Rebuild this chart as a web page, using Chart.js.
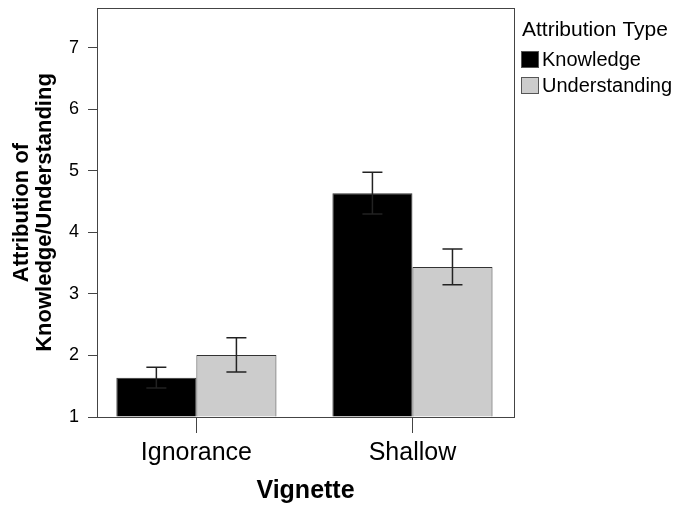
<!DOCTYPE html>
<html>
<head>
<meta charset="utf-8">
<script src="https://cdn.jsdelivr.net/npm/chart.js@4/dist/chart.umd.min.js"></script>
<style>
  html, body { margin: 0; padding: 0; background: #fff; }
  #wrap { width: 679px; height: 509px; position: relative; }
</style>
</head>
<body>
<div id="wrap"><canvas id="chart" width="679" height="509"></canvas></div>
<script>
// ---------- Data ----------
const categories = ['Ignorance', 'Shallow'];
const seriesNames = ['Knowledge', 'Understanding'];
const knowledgeMeans = [1.64, 4.64];
const knowledgeErr = [0.17, 0.34];
const understandingMeans = [2.01, 3.44];
const understandingErr = [0.28, 0.29];
const yTicks = [1, 2, 3, 4, 5, 6, 7];

const FONT = '"Liberation Sans", Arial, sans-serif';
const axisColor = '#444';

// error bars drawn from the bar elements + y scale
const errorBars = {
  id: 'errorBars',
  afterDatasetsDraw(chart) {
    const ctx = chart.ctx, y = chart.scales.y;
    chart.data.datasets.forEach((ds, di) => {
      const meta = chart.getDatasetMeta(di);
      meta.data.forEach((bar, i) => {
        const v = ds.data[i].y, e = ds.errors[i];
        const top = y.getPixelForValue(v + e), bot = y.getPixelForValue(v - e);
        ctx.save();
        ctx.strokeStyle = '#222'; ctx.lineWidth = 1.5;
        ctx.beginPath();
        ctx.moveTo(bar.x, top); ctx.lineTo(bar.x, bot);
        ctx.moveTo(bar.x - 10, top); ctx.lineTo(bar.x + 10, top);
        ctx.moveTo(bar.x - 10, bot); ctx.lineTo(bar.x + 10, bot);
        ctx.stroke();
        ctx.restore();
      });
    });
  }
};

// frame around plot + legend at right
const frameAndLegend = {
  id: 'frameAndLegend',
  afterDraw(chart) {
    const {ctx, chartArea: a} = chart;
    ctx.save();
    ctx.strokeStyle = axisColor; ctx.lineWidth = 1;
    ctx.strokeRect(a.left + 0.5, a.top + 0.5, a.right - a.left, a.bottom - a.top);

    ctx.fillStyle = '#000';
    ctx.textBaseline = 'middle'; ctx.textAlign = 'left';
    ctx.font = '21px ' + FONT;
    ctx.fillText('Attribution Type', a.right + 8, 30);
    ctx.font = '20px ' + FONT;
    chart.data.datasets.forEach((ds, i) => {
      const yy = 59 + i * 26;
      ctx.fillStyle = ds.backgroundColor;
      ctx.fillRect(a.right + 7, yy - 8, 18, 17);
      ctx.strokeStyle = '#555';
      ctx.strokeRect(a.right + 7.5, yy - 7.5, 17, 16);
      ctx.fillStyle = '#000';
      ctx.fillText(ds.label, a.right + 28, yy + 1);
    });
    ctx.restore();
  }
};

const mk = (means) => means.map((m, i) => ({x: i, y: m}));

new Chart(document.getElementById('chart'), {
  type: 'bar',
  data: {
    datasets: [
      { label: seriesNames[0], data: mk(knowledgeMeans), errors: knowledgeErr,
        backgroundColor: '#000000', borderColor: '#333', borderWidth: 1, base: 1 },
      { label: seriesNames[1], data: mk(understandingMeans), errors: understandingErr,
        backgroundColor: '#cccccc', borderColor: '#333', borderWidth: 1, base: 1 }
    ]
  },
  options: {
    responsive: false,
    animation: false,
    categoryPercentage: 0.741,
    barPercentage: 1,
    layout: { padding: { top: 8, right: 165, left: 0, bottom: 0 } },
    plugins: { legend: { display: false }, tooltip: { enabled: false } },
    scales: {
      x: {
        type: 'linear', min: -0.46, max: 1.47, offset: false,
        afterBuildTicks: s => { s.ticks = categories.map((c, i) => ({value: i})); },
        afterFit: s => { s.height = 92; s.paddingLeft = 0; s.paddingRight = 0; },
        grid: { offset: false, drawOnChartArea: false, drawTicks: true, tickLength: 16, color: axisColor },
        border: { display: true, color: axisColor },
        ticks: { callback: v => categories[v], color: '#000', padding: 5,
                 font: { family: FONT, size: 25 }, maxRotation: 0 },
        title: { display: true, text: 'Vignette', color: '#000',
                 font: { family: FONT, size: 25, weight: 'bold' }, padding: { top: 0, bottom: 3 } }
      },
      y: {
        min: 1, max: 7.65,
        afterBuildTicks: s => { s.ticks = yTicks.map(v => ({value: v})); },
        afterFit: s => { s.width = 97; s.paddingTop = 0; s.paddingBottom = 0; },
        grid: { drawOnChartArea: false, drawTicks: true, tickLength: 9, color: axisColor },
        border: { display: true, color: axisColor },
        ticks: { color: '#000', padding: 9, font: { family: FONT, size: 18 } },
        title: { display: true, text: ['Attribution of', 'Knowledge/Understanding'], color: '#000',
                 font: { family: FONT, size: 22, weight: 'bold', lineHeight: 1.05 }, padding: { top: 10, bottom: 0 } }
      }
    }
  },
  plugins: [errorBars, frameAndLegend]
});
</script>
</body>
</html>
